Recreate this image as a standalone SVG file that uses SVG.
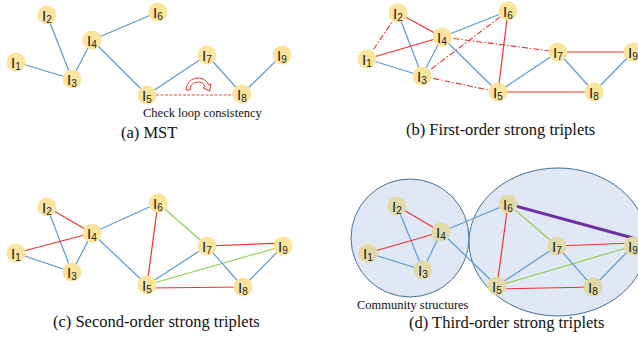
<svg xmlns="http://www.w3.org/2000/svg" width="638" height="337" viewBox="0 0 638 337">
<style>
.b{stroke:#5B9BD5;stroke-width:1.2;fill:none}
.r{stroke:#E8362D;stroke-width:1.2;fill:none}
.g{stroke:#92D050;stroke-width:1.2;fill:none}
.p{stroke:#7030A0;stroke-width:3;fill:none}
.rd{stroke:#EE4B40;stroke-width:1.1;stroke-dasharray:3 1.5;fill:none}
.rdd{stroke:#E8362D;stroke-width:1.1;stroke-dasharray:6 2 1.5 2;fill:none}
.n{fill:#FCE49C}
.nd{fill:#E2D9A7}
.lbl{font-family:"Liberation Sans",Arial,sans-serif;font-size:15px;fill:#222}
.sub{font-size:10px}
.cap{font-family:"Liberation Serif","Times New Roman",serif;font-size:16.5px;fill:#111}
.note{font-family:"Liberation Serif","Times New Roman",serif;font-size:12.5px;fill:#111}
.comm{fill:#E1E8F5;stroke:#41719C;stroke-width:1}
</style>

<!-- community ellipses (d) -->
<g id="communities">
<circle class="comm" cx="410" cy="238" r="59"/>
<ellipse class="comm" cx="558" cy="242" rx="89" ry="74"/>
</g>

<g id="connectors">
<!-- (a) -->
<line class="b" x1="16" y1="62" x2="72" y2="79"/>
<line class="b" x1="47" y1="15" x2="72" y2="79"/>
<line class="b" x1="72" y1="79" x2="92" y2="40"/>
<line class="b" x1="92" y1="40" x2="158" y2="12"/>
<line class="b" x1="92" y1="40" x2="147" y2="95"/>
<line class="b" x1="147" y1="95" x2="207" y2="55"/>
<line class="b" x1="207" y1="55" x2="242" y2="94"/>
<line class="b" x1="242" y1="94" x2="282" y2="55"/>
<line class="rd" x1="147" y1="95" x2="242" y2="95"/>
<!-- (b) -->
<line class="rdd" x1="367" y1="59" x2="398" y2="13"/>
<line class="r" x1="398" y1="13" x2="442" y2="37"/>
<line class="b" x1="398" y1="13" x2="422" y2="76"/>
<line class="r" x1="367" y1="59" x2="442" y2="37"/>
<line class="b" x1="367" y1="59" x2="422" y2="76"/>
<line class="b" x1="422" y1="76" x2="442" y2="37"/>
<line class="b" x1="442" y1="37" x2="508" y2="11"/>
<line class="rdd" x1="422" y1="76" x2="508" y2="11"/>
<line class="rdd" x1="442" y1="37" x2="558" y2="52"/>
<line class="rdd" x1="422" y1="76" x2="498" y2="92"/>
<line class="b" x1="442" y1="37" x2="498" y2="92"/>
<line class="r" x1="508" y1="11" x2="498" y2="92"/>
<line class="b" x1="498" y1="92" x2="558" y2="52"/>
<line class="r" x1="498" y1="92" x2="594" y2="92"/>
<line class="r" x1="558" y1="52" x2="633" y2="52"/>
<line class="b" x1="558" y1="52" x2="594" y2="92"/>
<line class="b" x1="594" y1="92" x2="633" y2="52"/>
<!-- (c) -->
<line class="r" x1="47" y1="207" x2="92" y2="233"/>
<line class="b" x1="47" y1="207" x2="72" y2="272"/>
<line class="r" x1="16" y1="253" x2="92" y2="233"/>
<line class="b" x1="16" y1="253" x2="72" y2="272"/>
<line class="b" x1="72" y1="272" x2="92" y2="233"/>
<line class="b" x1="92" y1="233" x2="158" y2="203"/>
<line class="b" x1="92" y1="233" x2="147" y2="285"/>
<line class="r" x1="158" y1="203" x2="147" y2="285"/>
<line class="g" x1="158" y1="203" x2="207" y2="246"/>
<line class="r" x1="207" y1="246" x2="283" y2="243"/>
<line class="b" x1="147" y1="285" x2="207" y2="246"/>
<line class="g" x1="147" y1="285" x2="283" y2="246"/>
<line class="b" x1="207" y1="246" x2="243" y2="287"/>
<line class="b" x1="283" y1="246" x2="243" y2="287"/>
<line class="r" x1="147" y1="288" x2="243" y2="287"/>
<!-- (d) -->
<line class="r" x1="397" y1="206" x2="441" y2="232"/>
<line class="b" x1="397" y1="206" x2="423" y2="270"/>
<line class="r" x1="368" y1="253" x2="441" y2="232"/>
<line class="b" x1="368" y1="253" x2="423" y2="270"/>
<line class="b" x1="423" y1="270" x2="441" y2="232"/>
<line class="b" x1="441" y1="232" x2="508" y2="204"/>
<line class="b" x1="441" y1="232" x2="497" y2="286"/>
<line class="r" x1="508" y1="204" x2="497" y2="286"/>
<line class="g" x1="508" y1="204" x2="557" y2="246"/>
<line class="p" x1="508" y1="204" x2="633" y2="238"/>
<line class="r" x1="557" y1="246" x2="633" y2="243"/>
<line class="b" x1="497" y1="286" x2="557" y2="246"/>
<line class="g" x1="497" y1="286" x2="633" y2="246"/>
<line class="b" x1="557" y1="246" x2="593" y2="287"/>
<line class="b" x1="633" y1="246" x2="593" y2="287"/>
<line class="r" x1="497" y1="289" x2="593" y2="287"/>
</g>

<!-- loop arrow (a) -->
<path d="M186,90 A12,12 0 0 1 208.9,84.9 L211.1,83.9 L209.6,91.2 L203,87.7 L205.2,86.6 A8,8 0 0 0 190,90 Z" fill="#fff" stroke="#E8362D" stroke-width="1"/>

<!-- panel (a) nodes -->
<g id="a-I1"><circle class="n" cx="16" cy="62" r="9.5"/><text class="lbl" x="11" y="68">I<tspan class="sub" dy="2">1</tspan></text></g>
<g id="a-I2"><circle class="n" cx="47" cy="15" r="9.5"/><text class="lbl" x="42" y="21">I<tspan class="sub" dy="2">2</tspan></text></g>
<g id="a-I3"><circle class="n" cx="72" cy="79" r="9.5"/><text class="lbl" x="67" y="85">I<tspan class="sub" dy="2">3</tspan></text></g>
<g id="a-I4"><circle class="n" cx="92" cy="40" r="9.5"/><text class="lbl" x="87" y="46">I<tspan class="sub" dy="2">4</tspan></text></g>
<g id="a-I5"><circle class="n" cx="147" cy="95" r="9.5"/><text class="lbl" x="142" y="101">I<tspan class="sub" dy="2">5</tspan></text></g>
<g id="a-I6"><circle class="n" cx="158" cy="12" r="9.5"/><text class="lbl" x="153" y="18">I<tspan class="sub" dy="2">6</tspan></text></g>
<g id="a-I7"><circle class="n" cx="207" cy="55" r="9.5"/><text class="lbl" x="202" y="61">I<tspan class="sub" dy="2">7</tspan></text></g>
<g id="a-I8"><circle class="n" cx="242" cy="94" r="9.5"/><text class="lbl" x="237" y="100">I<tspan class="sub" dy="2">8</tspan></text></g>
<g id="a-I9"><circle class="n" cx="282" cy="55" r="9.5"/><text class="lbl" x="277" y="61">I<tspan class="sub" dy="2">9</tspan></text></g>

<!-- panel (b) nodes -->
<g id="b-I1"><circle class="n" cx="367" cy="59" r="9.5"/><text class="lbl" x="362" y="65">I<tspan class="sub" dy="2">1</tspan></text></g>
<g id="b-I2"><circle class="n" cx="398" cy="13" r="9.5"/><text class="lbl" x="393" y="19">I<tspan class="sub" dy="2">2</tspan></text></g>
<g id="b-I3"><circle class="n" cx="422" cy="76" r="9.5"/><text class="lbl" x="417" y="82">I<tspan class="sub" dy="2">3</tspan></text></g>
<g id="b-I4"><circle class="n" cx="442" cy="37" r="9.5"/><text class="lbl" x="437" y="43">I<tspan class="sub" dy="2">4</tspan></text></g>
<g id="b-I5"><circle class="n" cx="498" cy="92" r="9.5"/><text class="lbl" x="493" y="98">I<tspan class="sub" dy="2">5</tspan></text></g>
<g id="b-I6"><circle class="n" cx="508" cy="11" r="9.5"/><text class="lbl" x="503" y="17">I<tspan class="sub" dy="2">6</tspan></text></g>
<g id="b-I7"><circle class="n" cx="558" cy="52" r="9.5"/><text class="lbl" x="553" y="58">I<tspan class="sub" dy="2">7</tspan></text></g>
<g id="b-I8"><circle class="n" cx="594" cy="92" r="9.5"/><text class="lbl" x="589" y="98">I<tspan class="sub" dy="2">8</tspan></text></g>
<g id="b-I9"><circle class="n" cx="633" cy="52" r="9.5"/><text class="lbl" x="628" y="58">I<tspan class="sub" dy="2">9</tspan></text></g>

<!-- panel (c) nodes -->
<g id="c-I1"><circle class="n" cx="16" cy="253" r="9.5"/><text class="lbl" x="11" y="259">I<tspan class="sub" dy="2">1</tspan></text></g>
<g id="c-I2"><circle class="n" cx="47" cy="207" r="9.5"/><text class="lbl" x="42" y="213">I<tspan class="sub" dy="2">2</tspan></text></g>
<g id="c-I3"><circle class="n" cx="72" cy="272" r="9.5"/><text class="lbl" x="67" y="278">I<tspan class="sub" dy="2">3</tspan></text></g>
<g id="c-I4"><circle class="n" cx="92" cy="233" r="9.5"/><text class="lbl" x="87" y="239">I<tspan class="sub" dy="2">4</tspan></text></g>
<g id="c-I5"><circle class="n" cx="147" cy="285" r="9.5"/><text class="lbl" x="142" y="291">I<tspan class="sub" dy="2">5</tspan></text></g>
<g id="c-I6"><circle class="n" cx="158" cy="203" r="9.5"/><text class="lbl" x="153" y="209">I<tspan class="sub" dy="2">6</tspan></text></g>
<g id="c-I7"><circle class="n" cx="207" cy="246" r="9.5"/><text class="lbl" x="202" y="252">I<tspan class="sub" dy="2">7</tspan></text></g>
<g id="c-I8"><circle class="n" cx="243" cy="287" r="9.5"/><text class="lbl" x="238" y="293">I<tspan class="sub" dy="2">8</tspan></text></g>
<g id="c-I9"><circle class="n" cx="283" cy="246" r="9.5"/><text class="lbl" x="278" y="252">I<tspan class="sub" dy="2">9</tspan></text></g>

<!-- panel (d) nodes -->
<g id="d-I1"><circle class="nd" cx="368" cy="253" r="9.5"/><text class="lbl" x="363" y="259">I<tspan class="sub" dy="2">1</tspan></text></g>
<g id="d-I2"><circle class="nd" cx="397" cy="206" r="9.5"/><text class="lbl" x="392" y="212">I<tspan class="sub" dy="2">2</tspan></text></g>
<g id="d-I3"><circle class="nd" cx="423" cy="270" r="9.5"/><text class="lbl" x="418" y="276">I<tspan class="sub" dy="2">3</tspan></text></g>
<g id="d-I4"><circle class="nd" cx="441" cy="232" r="9.5"/><text class="lbl" x="436" y="238">I<tspan class="sub" dy="2">4</tspan></text></g>
<g id="d-I5"><circle class="nd" cx="497" cy="286" r="9.5"/><text class="lbl" x="492" y="292">I<tspan class="sub" dy="2">5</tspan></text></g>
<g id="d-I6"><circle class="nd" cx="508" cy="204" r="9.5"/><text class="lbl" x="503" y="210">I<tspan class="sub" dy="2">6</tspan></text></g>
<g id="d-I7"><circle class="nd" cx="557" cy="246" r="9.5"/><text class="lbl" x="552" y="252">I<tspan class="sub" dy="2">7</tspan></text></g>
<g id="d-I8"><circle class="nd" cx="593" cy="287" r="9.5"/><text class="lbl" x="588" y="293">I<tspan class="sub" dy="2">8</tspan></text></g>
<g id="d-I9"><circle class="nd" cx="633" cy="246" r="9.5"/><text class="lbl" x="628" y="252">I<tspan class="sub" dy="2">9</tspan></text></g>

<!-- texts -->
<text class="note" x="143" y="116.5">Check loop consistency</text>
<text class="note" x="357" y="309">Community structures</text>
<text class="cap" x="121" y="138">(a) MST</text>
<text class="cap" x="406" y="135">(b) First-order strong triplets</text>
<text class="cap" x="53" y="327">(c) Second-order strong triplets</text>
<text class="cap" x="409" y="328">(d) Third-order strong triplets</text>
</svg>
